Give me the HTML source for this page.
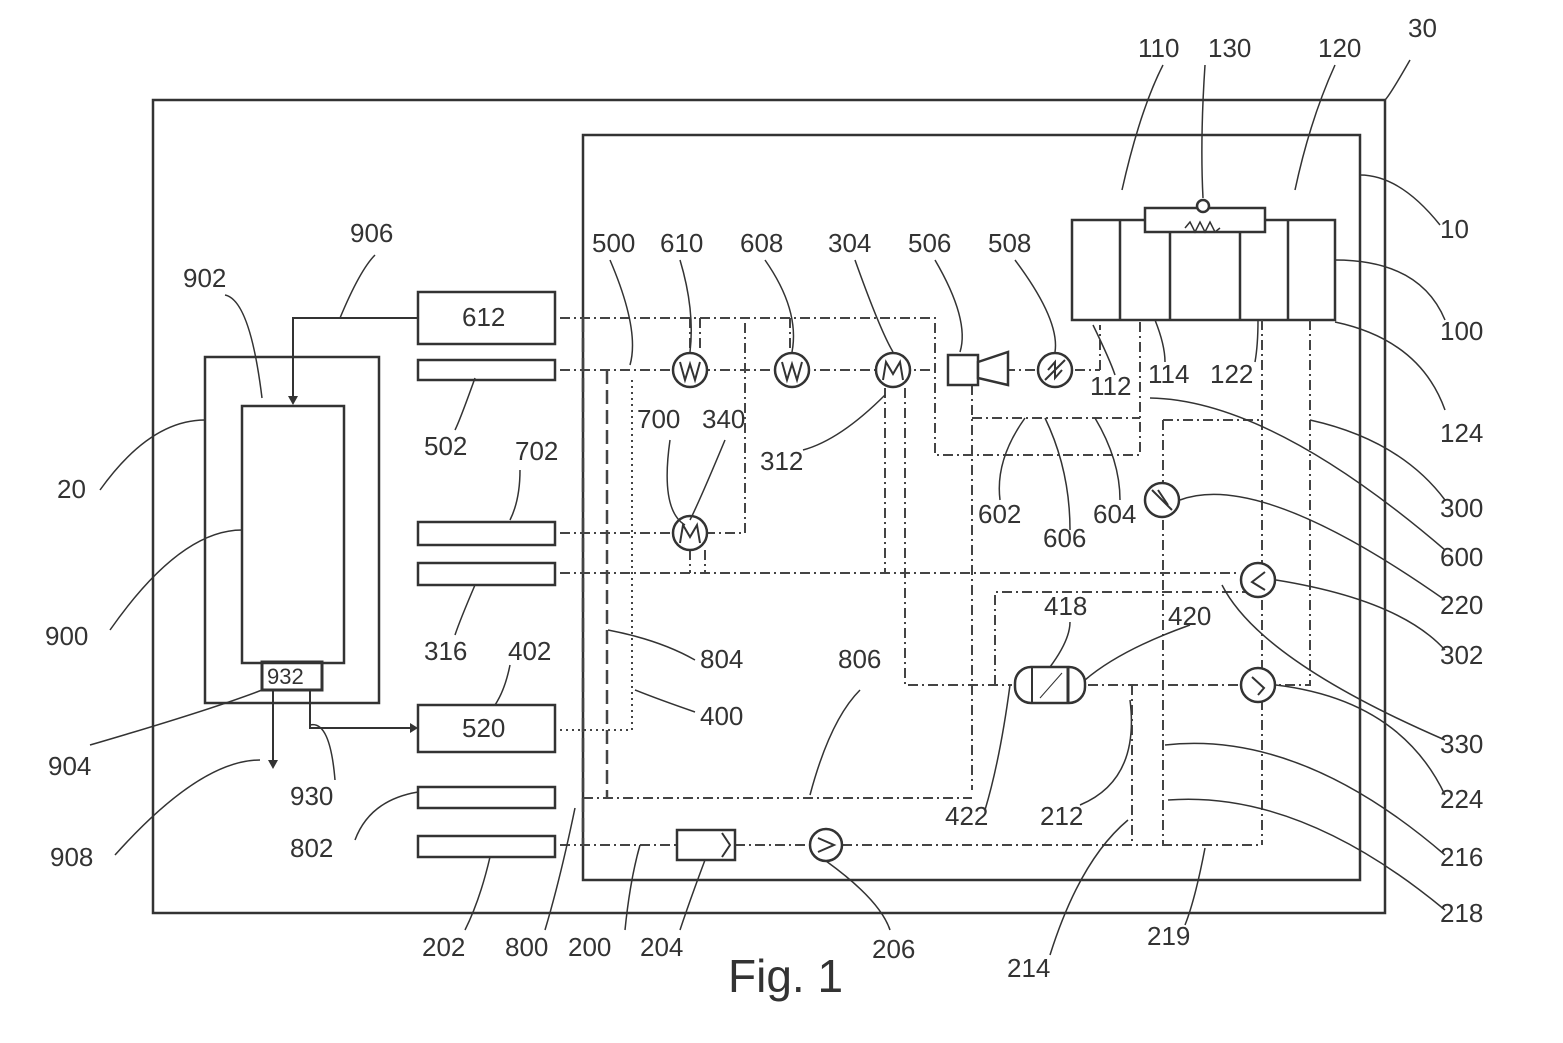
<!DOCTYPE html>
<html><head><meta charset="utf-8"><style>
html,body{margin:0;padding:0;background:#fff;}
svg{display:block;}
text{font-family:"Liberation Sans",sans-serif;font-size:26px;fill:#333;}
</style></head><body>
<svg width="1563" height="1043" viewBox="0 0 1563 1043" xmlns="http://www.w3.org/2000/svg">
<g fill="none" stroke="#333" stroke-width="2.5">
<rect x="153" y="100" width="1232" height="813"/>
<rect x="583" y="135" width="777" height="745"/>
<rect x="205" y="357" width="174" height="346"/>
<rect x="242" y="406" width="102" height="257"/>
<rect x="262" y="662" width="60" height="28" stroke-width="3"/>
<rect x="1072" y="220" width="263" height="100"/>
<line x1="1120" y1="220" x2="1120" y2="320"/><line x1="1170" y1="220" x2="1170" y2="320"/>
<line x1="1240" y1="220" x2="1240" y2="320"/><line x1="1288" y1="220" x2="1288" y2="320"/>
<rect x="1145" y="208" width="120" height="24" fill="#fff"/>
<circle cx="1203" cy="206" r="6" fill="#fff"/>
<polyline points="1185,228 1190,222 1195,232 1200,222 1205,232 1210,222 1215,232 1220,228" stroke-width="1.5"/>
<rect x="418" y="292" width="137" height="52"/>
<rect x="418" y="360" width="137" height="20"/>
<rect x="418" y="522" width="137" height="23"/>
<rect x="418" y="563" width="137" height="22"/>
<rect x="418" y="705" width="137" height="47"/>
<rect x="418" y="787" width="137" height="21"/>
<rect x="418" y="836" width="137" height="21"/>
<polyline points="418,318 293,318 293,402" stroke-width="2"/>
<polyline points="310,690 310,728 412,728" stroke-width="2"/>
<line x1="273" y1="690" x2="273" y2="765" stroke-width="2"/>
</g>
<g fill="#333"><polygon points="288,396 298,396 293,405"/><polygon points="410,723 410,733 418,728"/><polygon points="268,760 278,760 273,769"/></g>
<g fill="none" stroke="#444" stroke-width="2" stroke-dasharray="10,4,2,4">
<polyline points="560,318 935,318 935,455 1140,455 1140,320"/>
<line x1="560" y1="370" x2="940" y2="370"/>
<line x1="985" y1="370" x2="1035" y2="370"/>
<line x1="1075" y1="370" x2="1100" y2="370"/><line x1="1100" y1="370" x2="1100" y2="325"/>
<line x1="560" y1="533" x2="675" y2="533"/>
<polyline points="705,533 745,533 745,318"/>
<line x1="560" y1="573" x2="1240" y2="573"/>
<line x1="690" y1="318" x2="690" y2="352"/>
<line x1="700" y1="318" x2="700" y2="352"/>
<line x1="790" y1="318" x2="790" y2="352"/>
<line x1="885" y1="388" x2="885" y2="573"/>
<polyline points="905,388 905,685 1012,685"/>
<line x1="972" y1="385" x2="972" y2="790"/>
<line x1="972" y1="418" x2="1140" y2="418"/>
<polyline points="1163,420 1263,420"/>
<line x1="1163" y1="420" x2="1163" y2="845"/>
<line x1="1262" y1="320" x2="1262" y2="845"/>
<polyline points="1310,320 1310,685 1275,685"/>
<polyline points="995,685 995,592 1262,592"/>
<line x1="1088" y1="685" x2="1240" y2="685"/>
<line x1="1132" y1="685" x2="1132" y2="845"/>
<line x1="583" y1="798" x2="972" y2="798"/>
<line x1="560" y1="845" x2="677" y2="845"/>
<line x1="735" y1="845" x2="810" y2="845"/>
<line x1="842" y1="845" x2="1262" y2="845"/>
<line x1="690" y1="550" x2="690" y2="573"/>
<line x1="705" y1="550" x2="705" y2="573"/>
</g>
<g fill="none" stroke="#444" stroke-width="2.5" stroke-dasharray="14,6">
<line x1="583" y1="318" x2="583" y2="845"/>
<line x1="607" y1="370" x2="607" y2="798"/>
</g>
<g fill="none" stroke="#444" stroke-width="2" stroke-dasharray="2,4">
<polyline points="632,380 632,730 560,730"/>
</g>
<g fill="#fff" stroke="#333" stroke-width="2.5">
<circle cx="690" cy="370" r="17"/><circle cx="792" cy="370" r="17"/><circle cx="893" cy="370" r="17"/>
<circle cx="690" cy="533" r="17"/><circle cx="1055" cy="370" r="17"/>
<circle cx="1162" cy="500" r="17"/><circle cx="1258" cy="580" r="17"/><circle cx="1258" cy="685" r="17"/>
<circle cx="826" cy="845" r="16"/>
<rect x="948" y="355" width="30" height="30"/>
<polygon points="978,362 1008,352 1008,385 978,378"/>
<rect x="677" y="830" width="58" height="30"/>
<rect x="1015" y="667" width="70" height="36" rx="16"/>
</g>
<g fill="none" stroke="#333" stroke-width="2">
<polyline points="680,362 685,380 690,364 695,380 700,362"/>
<polyline points="782,362 787,380 792,364 797,380 802,362"/>
<polyline points="883,380 886,362 893,374 900,362 903,380"/>
<polyline points="680,543 683,525 690,537 697,525 700,543"/>
<line x1="1045" y1="380" x2="1065" y2="360"/><polyline points="1048,370 1055,362 1055,378 1062,370"/>
<line x1="1152" y1="490" x2="1172" y2="510"/><line x1="1158" y1="490" x2="1168" y2="505"/>
<polyline points="1265,572 1252,582 1265,590"/>
<polyline points="1252,677 1264,688 1258,695"/>
<polyline points="818,838 834,845 818,852"/>
<polyline points="722,833 730,845 722,857"/>
<line x1="1032" y1="667" x2="1032" y2="703"/><line x1="1068" y1="667" x2="1068" y2="703" stroke-width="3"/>
<line x1="1040" y1="698" x2="1062" y2="673" stroke-width="1"/>
</g>
<g fill="none" stroke="#333" stroke-width="1.5">
<path d="M1163,65 Q1140,110 1122,190"/><path d="M1205,65 Q1200,140 1203,198"/><path d="M1335,65 Q1310,120 1295,190"/>
<path d="M1385,100 Q1390,95 1410,60"/><path d="M1360,175 Q1400,175 1440,225"/>
<path d="M1335,260 Q1420,260 1445,320"/><path d="M1335,322 Q1420,340 1445,410"/>
<path d="M1310,420 Q1400,440 1445,500"/><path d="M1150,398 Q1270,400 1445,550"/>
<path d="M1180,500 Q1260,470 1445,600"/><path d="M1276,580 Q1400,600 1445,650"/>
<path d="M1222,585 Q1260,660 1445,740"/><path d="M1276,685 Q1400,700 1445,795"/>
<path d="M1165,745 Q1300,730 1445,855"/><path d="M1168,800 Q1300,790 1445,910"/>
<path d="M1205,848 Q1195,900 1185,925"/><path d="M1128,820 Q1080,860 1050,955"/>
<path d="M1130,700 Q1140,780 1080,805"/><path d="M1085,680 Q1120,650 1190,625"/>
<path d="M1050,667 Q1070,640 1070,622"/><path d="M1010,685 Q1000,760 985,810"/>
<path d="M1025,418 Q995,460 1000,500"/><path d="M1045,418 Q1070,470 1070,530"/><path d="M1095,418 Q1120,460 1120,500"/>
<path d="M1093,325 Q1110,360 1115,375"/><path d="M1155,320 Q1165,345 1165,362"/><path d="M1258,320 Q1258,345 1255,362"/>
<path d="M1015,260 Q1060,320 1055,352"/><path d="M935,260 Q970,320 960,352"/><path d="M855,260 Q880,330 893,352"/>
<path d="M765,260 Q800,310 792,352"/><path d="M680,260 Q695,310 690,352"/><path d="M610,260 Q640,330 630,365"/>
<path d="M803,450 Q840,440 885,395"/><path d="M670,440 Q660,510 685,525"/><path d="M725,440 Q700,500 690,520"/>
<path d="M608,630 Q660,640 695,660"/><path d="M635,690 Q660,700 695,712"/><path d="M810,795 Q830,720 860,690"/>
<path d="M475,378 Q460,420 455,430"/><path d="M520,470 Q520,500 510,520"/>
<path d="M475,585 Q460,620 455,635"/><path d="M510,665 Q505,690 495,705"/><path d="M340,318 Q360,270 375,255"/>
<path d="M262,398 Q250,300 225,295"/><path d="M242,530 Q180,530 110,630"/><path d="M205,420 Q150,420 100,490"/>
<path d="M262,690 Q210,710 90,745"/><path d="M260,760 Q200,760 115,855"/><path d="M310,725 Q330,720 335,780"/>
<path d="M418,792 Q370,800 355,840"/><path d="M490,857 Q480,900 465,930"/><path d="M575,808 Q560,880 545,930"/>
<path d="M640,845 Q630,880 625,930"/><path d="M705,860 Q690,900 680,930"/><path d="M826,861 Q880,900 890,930"/>
</g>
<text x="1138" y="57">110</text><text x="1208" y="57">130</text><text x="1318" y="57">120</text><text x="1408" y="37">30</text>
<text x="1440" y="238">10</text><text x="1440" y="340">100</text><text x="1440" y="442">124</text>
<text x="1440" y="517">300</text><text x="1440" y="566">600</text><text x="1440" y="614">220</text>
<text x="1440" y="664">302</text><text x="1440" y="753">330</text><text x="1440" y="808">224</text>
<text x="1440" y="866">216</text><text x="1440" y="922">218</text>
<text x="1147" y="945">219</text><text x="1007" y="977">214</text>
<text x="592" y="252">500</text><text x="660" y="252">610</text><text x="740" y="252">608</text>
<text x="828" y="252">304</text><text x="908" y="252">506</text><text x="988" y="252">508</text>
<text x="1090" y="395">112</text><text x="1148" y="383">114</text><text x="1210" y="383">122</text>
<text x="978" y="523">602</text><text x="1043" y="547">606</text><text x="1093" y="523">604</text>
<text x="637" y="428">700</text><text x="702" y="428">340</text><text x="760" y="470">312</text>
<text x="350" y="242">906</text><text x="183" y="287">902</text><text x="424" y="455">502</text>
<text x="515" y="460">702</text><text x="424" y="660">316</text><text x="508" y="660">402</text>
<text x="700" y="668">804</text><text x="700" y="725">400</text><text x="838" y="668">806</text>
<text x="1044" y="615">418</text><text x="1168" y="625">420</text>
<text x="945" y="825">422</text><text x="1040" y="825">212</text>
<text x="57" y="498">20</text><text x="45" y="645">900</text><text x="48" y="775">904</text>
<text x="290" y="805">930</text><text x="50" y="866">908</text><text x="290" y="857">802</text>
<text x="422" y="956">202</text><text x="505" y="956">800</text><text x="568" y="956">200</text>
<text x="640" y="956">204</text><text x="872" y="958">206</text>
<text x="462" y="326">612</text><text x="462" y="737">520</text><text x="267" y="684" style="font-size:22px">932</text>
<text x="728" y="992" style="font-size:46px">Fig. 1</text>
</svg>
</body></html>
